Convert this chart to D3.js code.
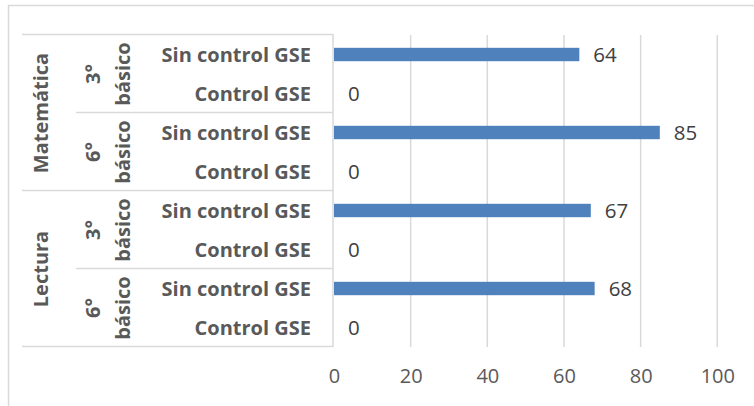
<!DOCTYPE html>
<html>
<head>
<meta charset="utf-8">
<script src="https://cdn.jsdelivr.net/npm/d3@7"></script>
<style>
html,body{margin:0;padding:0;background:#fff;}
svg{display:block;font-family:"Open Sans",sans-serif;}
</style>
</head>
<body>
<svg id="chart" width="754" height="406"></svg>
<script>
// Data
const subjects = ["Matemática", "Lectura"];
const grades = [["3°", "básico"], ["6°", "básico"]];
const conditions = ["Sin control GSE", "Control GSE"];
const values = [64, 0, 85, 0, 67, 0, 68, 0];
const xTicks = [0, 20, 40, 60, 80, 100];

const rows = [];
subjects.forEach((s, si) => grades.forEach((g, gi) => conditions.forEach((c, ci) => {
  rows.push({key: si + "-" + gi + "-" + ci, subject: s, grade: g, cond: c, si, gi, ci});
})));
rows.forEach((r, i) => r.value = values[i]);

const svg = d3.select("#chart");
const W = 754, H = 406;
const plot = {left: 334, right: 717.3, top: 35, bottom: 347};

// Chart border
svg.append("rect").attr("x", 8.5).attr("y", 5.5).attr("width", W).attr("height", H)
  .attr("fill", "none").attr("stroke", "#d9d9d9").attr("stroke-width", 1.5);

const x = d3.scaleLinear().domain([0, 100]).range([plot.left, plot.right]);
const band = d3.scaleBand().domain(rows.map(r => r.key)).range([plot.top, plot.bottom]);

// Gridlines
svg.append("g").selectAll("line").data(xTicks.filter(t => t > 0)).join("line")
  .attr("x1", d => x(d)).attr("x2", d => x(d))
  .attr("y1", plot.top).attr("y2", plot.bottom)
  .attr("stroke", "#d9d9d9").attr("stroke-width", 1.5);

// Axis tick labels
const xAxis = d3.axisBottom(x).tickValues(xTicks).tickSize(0).tickPadding(22);
const gx = svg.append("g").attr("transform", `translate(0,${plot.bottom})`).call(xAxis);
gx.select(".domain").remove();
gx.selectAll("text").attr("font-family", "Open Sans").attr("font-size", 20).attr("fill", "#595959");

// Category area lines
const lineColor = "#d9d9d9";
const cat = svg.append("g").attr("stroke", lineColor).attr("stroke-width", 1.5);
cat.append("line").attr("x1", plot.left - 1).attr("x2", plot.left - 1).attr("y1", plot.top - 1).attr("y2", plot.bottom);
const groupEdges = [];
subjects.forEach((s, si) => {
  const first = rows.find(r => r.si === si);
  groupEdges.push({y: band(first.key), x1: 22});
  grades.forEach((g, gi) => {
    if (gi > 0) {
      const f = rows.find(r => r.si === si && r.gi === gi);
      groupEdges.push({y: band(f.key), x1: 76});
    }
  });
});
groupEdges.push({y: plot.bottom, x1: 22});
cat.selectAll("line.edge").data(groupEdges).join("line").attr("class", "edge")
  .attr("x1", d => d.x1).attr("x2", plot.left - 1)
  .attr("y1", d => d.y - 0.5).attr("y2", d => d.y - 0.5);

// Bars
svg.append("g").selectAll("rect").data(rows).join("rect")
  .attr("x", x(0)).attr("y", d => band(d.key) + band.bandwidth() / 2 - 6.7)
  .attr("width", d => x(d.value) - x(0)).attr("height", 13.4)
  .attr("fill", "#4f81bd");

// Data labels
svg.append("g").selectAll("text").data(rows).join("text")
  .attr("x", d => x(d.value) + 14).attr("y", d => band(d.key) + band.bandwidth() / 2)
  .attr("dy", "0.36em").attr("font-size", 20.5).attr("fill", "#404040")
  .text(d => d.value);

// Condition labels
svg.append("g").selectAll("text").data(rows).join("text")
  .attr("x", 311).attr("y", d => band(d.key) + band.bandwidth() / 2)
  .attr("dy", "0.36em").attr("text-anchor", "end")
  .attr("font-size", 20).attr("font-weight", "bold").attr("fill", "#595959")
  .text(d => d.cond);

// Grade labels (two lines, rotated)
const gradeData = [];
subjects.forEach((s, si) => grades.forEach((g, gi) => {
  const rs = rows.filter(r => r.si === si && r.gi === gi);
  const y0 = band(rs[0].key), y1 = band(rs[rs.length - 1].key) + band.bandwidth();
  gradeData.push({lines: g, cy: (y0 + y1) / 2});
}));
const gg = svg.append("g").selectAll("text").data(gradeData).join("text")
  .attr("transform", d => `translate(0,${d.cy}) rotate(-90)`)
  .attr("text-anchor", "middle").attr("font-size", 20).attr("font-weight", "bold").attr("fill", "#595959");
gg.selectAll("tspan").data(d => d.lines).join("tspan")
  .attr("x", 0).attr("y", (d, i) => i === 0 ? 100 : 129.5).text(d => d);

// Subject labels
const subjData = subjects.map((s, si) => {
  const rs = rows.filter(r => r.si === si);
  return {s, cy: (band(rs[0].key) + band(rs[rs.length - 1].key) + band.bandwidth()) / 2};
});
svg.append("g").selectAll("text").data(subjData).join("text")
  .attr("transform", d => `translate(0,${d.cy}) rotate(-90)`)
  .attr("text-anchor", "middle").attr("y", 47.5)
  .attr("font-size", 20).attr("font-weight", "bold").attr("fill", "#595959")
  .text(d => d.s);
</script>
</body>
</html>
